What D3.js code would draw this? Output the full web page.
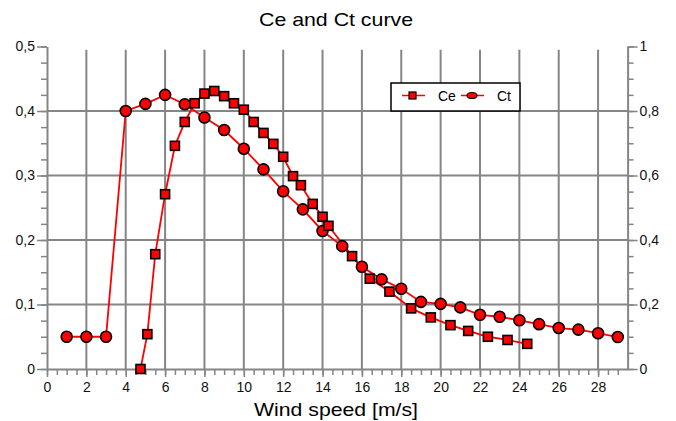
<!DOCTYPE html>
<meta charset="utf-8">
<style>
  body { margin: 0; background: #fff; }
  svg { display: block; font-family: "Liberation Sans", Arial, sans-serif; }
</style>
<svg width="676" height="421"></svg>
<script src="https://d3js.org/d3.v7.min.js"></script>
<script>

var width = 676,
    height = 421;

// Ce (left axis) and Ct (right axis) against wind speed
var ceSpeed = [4.75, 5.1, 5.5, 6, 6.5, 7, 7.5, 8, 8.5, 9, 9.5, 10, 10.5, 11, 11.5, 12,
               12.5, 12.9, 13.5, 14, 14.3, 15.5, 16.4, 17.4, 18.5, 19.5, 20.5, 21.4, 22.4, 23.4, 24.4];
var ceValue = [0, 0.054, 0.178, 0.271, 0.346, 0.383, 0.412, 0.427, 0.431, 0.423, 0.412, 0.402, 0.383, 0.366, 0.349, 0.329,
               0.299, 0.285, 0.256, 0.236, 0.222, 0.175, 0.140, 0.120, 0.094, 0.080, 0.068, 0.059, 0.050, 0.045, 0.039];

var ctSpeed = [1, 2, 3, 4, 5, 6, 7, 8, 9, 10, 11, 12, 13, 14, 15, 16, 17, 18, 19, 20,
               21, 22, 23, 24, 25, 26, 27, 28, 29];
var ctValue = [0.1, 0.1, 0.1, 0.8, 0.822, 0.85, 0.821, 0.78, 0.741, 0.683, 0.619, 0.551, 0.495, 0.428, 0.381, 0.317, 0.278, 0.249, 0.208, 0.202,
               0.191, 0.168, 0.162, 0.151, 0.139, 0.127, 0.122, 0.111, 0.099];

var xTicks = d3.range(0, 29, 2),
    leftTicks = [0, 0.1, 0.2, 0.3, 0.4, 0.5],
    rightTicks = [0, 0.2, 0.4, 0.6, 0.8, 1];

var x = d3.scaleLinear().domain([0, 29.5]).range([47, 627.6]),
    yLeft = d3.scaleLinear().domain([0, 0.5]).range([369, 46.5]),
    yRight = d3.scaleLinear().domain([0, 1]).range([369, 46.5]);

var comma = function(d) { return String(d).replace(".", ","); };
var grey = "#858585";

var svg = d3.select("svg");

// grid
svg.append("g").selectAll("line")
    .data(xTicks.slice(1))
  .enter().append("line")
    .attr("x1", function(d) { return x(d); })
    .attr("x2", function(d) { return x(d); })
    .attr("y1", yLeft(0.495))
    .attr("y2", yLeft(0))
    .attr("stroke", grey)
    .attr("stroke-width", 2);

svg.append("g").selectAll("line")
    .data([0.1, 0.2, 0.3, 0.4])
  .enter().append("line")
    .attr("x1", x(0))
    .attr("x2", x.range()[1])
    .attr("y1", function(d) { return yLeft(d); })
    .attr("y2", function(d) { return yLeft(d); })
    .attr("stroke", grey)
    .attr("stroke-width", 2);

// axes
function styleAxis(g) {
  g.select(".domain").attr("stroke", grey).attr("stroke-width", 2);
  g.selectAll(".tick line").attr("stroke", grey).attr("stroke-width", 1.5);
  g.selectAll(".tick text").attr("fill", "#111").attr("font-size", 14)
      .attr("font-family", "'Liberation Sans', Arial, sans-serif");
}

svg.append("g")
    .attr("transform", "translate(0," + yLeft(0) + ")")
    .call(d3.axisBottom(x).tickValues(d3.range(0, 29.5, 0.5)).tickSize(6).tickSizeOuter(0).tickFormat(""))
    .call(styleAxis);

svg.append("g")
    .attr("transform", "translate(0," + yLeft(0) + ")")
    .call(d3.axisBottom(x).tickValues(xTicks).tickSize(8).tickPadding(5).tickSizeOuter(0).tickFormat(comma))
    .call(styleAxis)
    .call(function(g) { g.select(".domain").remove(); });

svg.append("g")
    .attr("transform", "translate(" + x(0) + ",0)")
    .call(d3.axisLeft(yLeft).tickValues(d3.range(0, 0.5001, 0.025)).tickSize(6).tickSizeOuter(0).tickFormat(""))
    .call(styleAxis);

svg.append("g")
    .attr("transform", "translate(" + x(0) + ",0)")
    .call(d3.axisLeft(yLeft).tickValues(leftTicks).tickSize(10).tickPadding(2).tickFormat(comma))
    .call(styleAxis)
    .call(function(g) { g.select(".domain").remove(); });

svg.append("g")
    .attr("transform", "translate(" + x.range()[1] + ",0)")
    .call(d3.axisRight(yRight).tickValues(d3.range(0, 1.0001, 0.05)).tickSize(6).tickSizeOuter(0).tickFormat(""))
    .call(styleAxis);

svg.append("g")
    .attr("transform", "translate(" + x.range()[1] + ",0)")
    .call(d3.axisRight(yRight).tickValues(rightTicks).tickSize(10).tickPadding(2).tickFormat(comma))
    .call(styleAxis)
    .call(function(g) { g.select(".domain").remove(); });

// series
var ce = ceSpeed.map(function(s, i) { return [s, ceValue[i]]; }),
    ct = ctSpeed.map(function(s, i) { return [s, ctValue[i]]; });

svg.append("path")
    .datum(ct)
    .attr("fill", "none")
    .attr("stroke", "#f00")
    .attr("stroke-width", 1.8)
    .attr("d", d3.line()
      .x(function(d) { return x(d[0]); })
      .y(function(d) { return yRight(d[1]); }));

svg.append("path")
    .datum(ce)
    .attr("fill", "none")
    .attr("stroke", "#f00")
    .attr("stroke-width", 1.8)
    .attr("d", d3.line()
      .x(function(d) { return x(d[0]); })
      .y(function(d) { return yLeft(d[1]); }));

svg.append("g").selectAll("circle")
    .data(ct)
  .enter().append("circle")
    .attr("cx", function(d) { return x(d[0]); })
    .attr("cy", function(d) { return yRight(d[1]); })
    .attr("r", 5.5)
    .attr("fill", "#f00")
    .attr("stroke", "#000")
    .attr("stroke-width", 1.6);

svg.append("g").selectAll("rect")
    .data(ce)
  .enter().append("rect")
    .attr("x", function(d) { return x(d[0]) - 4.5; })
    .attr("y", function(d) { return yLeft(d[1]) - 4.5; })
    .attr("width", 9)
    .attr("height", 9)
    .attr("fill", "#f00")
    .attr("stroke", "#000")
    .attr("stroke-width", 1.6);

// legend
var legend = svg.append("g").attr("transform", "translate(391,83)");
legend.append("rect")
    .attr("width", 129).attr("height", 28)
    .attr("fill", "#fff").attr("stroke", "#000").attr("stroke-width", 1.5);
legend.append("line").attr("x1", 11).attr("x2", 34).attr("y1", 12.5).attr("y2", 12.5)
    .attr("stroke", "#f00").attr("stroke-width", 1.5);
legend.append("rect").attr("x", 18).attr("y", 9).attr("width", 7).attr("height", 7)
    .attr("fill", "#f00").attr("stroke", "#000").attr("stroke-width", 1.2);
legend.append("text").attr("x", 47).attr("y", 17.5).attr("font-size", 14).text("Ce");
legend.append("line").attr("x1", 70).attr("x2", 93).attr("y1", 12.5).attr("y2", 12.5)
    .attr("stroke", "#f00").attr("stroke-width", 1.5);
legend.append("ellipse").attr("cx", 81).attr("cy", 12.5).attr("rx", 5).attr("ry", 3)
    .attr("fill", "#f00").attr("stroke", "#000").attr("stroke-width", 1.2);
legend.append("text").attr("x", 106).attr("y", 17.5).attr("font-size", 14).text("Ct");

// titles
svg.append("text")
    .attr("x", 336).attr("y", 26)
    .attr("text-anchor", "middle")
    .attr("font-size", 19)
    .attr("textLength", 154)
    .attr("lengthAdjust", "spacingAndGlyphs")
    .text("Ce and Ct curve");

svg.append("text")
    .attr("x", 336).attr("y", 416)
    .attr("text-anchor", "middle")
    .attr("font-size", 19)
    .attr("textLength", 164)
    .attr("lengthAdjust", "spacingAndGlyphs")
    .text("Wind speed [m/s]");

</script>
